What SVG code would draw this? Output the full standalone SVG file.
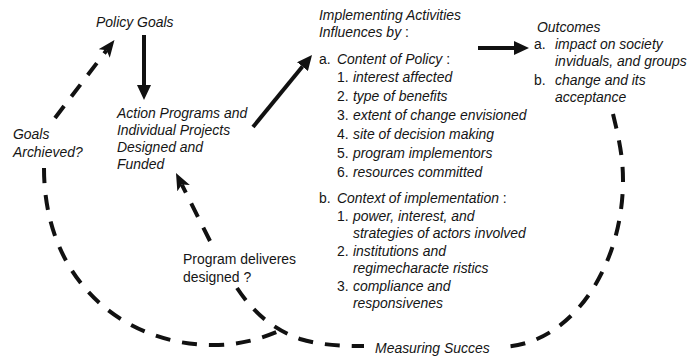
<svg xmlns="http://www.w3.org/2000/svg" width="689" height="358" viewBox="0 0 689 358">
<style>
text{font-family:"Liberation Sans",Arial,sans-serif;font-size:15.5px;fill:#151515}
.i{font-style:italic}
.sol{fill:none;stroke:#111;stroke-width:4}
.das{fill:none;stroke:#111;stroke-width:4;stroke-dasharray:15 12}
</style>
<defs>
<marker id="ah" markerUnits="userSpaceOnUse" markerWidth="15" markerHeight="14" viewBox="0 0 15 14" refX="0" refY="7" orient="auto"><path d="M0,0 L15,7 L0,14 z" fill="#111"/></marker>
<marker id="ahd" markerUnits="userSpaceOnUse" markerWidth="17" markerHeight="14" viewBox="0 0 17 14" refX="4" refY="7" orient="auto"><path d="M0,0 L17,7 L0,14 L4,7 z" fill="#111"/></marker>
</defs>
<g id="connectors">
<path class="sol" d="M144,35 L144,85" marker-end="url(#ah)"/>
<path class="sol" d="M253,127 L302.5,66.6" marker-end="url(#ah)"/>
<path class="sol" d="M478,48 L514,48" marker-end="url(#ah)"/>
<path class="das" d="M55,118 L106.6,50.3" marker-end="url(#ahd)"/>
<path class="das" d="M210,241 L181.8,184.6" marker-end="url(#ahd)"/>
<path class="das" d="M613,114 C618,135 623,155 623,180 C623,268 570,347 499,347"/>
<path class="das" d="M44,168 C44,282 125,345 213,345 C240,345 260,339 279,331"/>
<path class="das" d="M237,288 C255,315 275,330 300,339 C320,345 340,346 364,346"/>
</g>
<g transform="scale(0.9,1)">
<g id="policy-goals"><text class="i" x="106.7" y="27">Policy Goals</text></g>
<g id="action-programs">
<text class="i" x="130" y="118">Action Programs and</text>
<text class="i" x="130" y="135">Individual Projects</text>
<text class="i" x="130" y="152">Designed and</text>
<text class="i" x="130" y="169">Funded</text>
</g>
<g id="goals-archieved">
<text class="i" x="14.4" y="139">Goals</text>
<text class="i" x="14.4" y="157">Archieved?</text>
</g>
<g id="program-delivers">
<text x="203.3" y="264">Program deliveres</text>
<text x="203.3" y="282">designed ?</text>
</g>
<g id="implementing">
<text x="354.4" y="20" class="i">Implementing Activities</text>
<text x="354.4" y="37"><tspan class="i">Influences by</tspan> :</text>
<text x="354.4" y="64">a.<tspan x="374.4" class="i">Content of Policy</tspan> :</text>
<text x="374.4" y="82">1.<tspan x="392.2" class="i">interest affected</tspan></text>
<text x="374.4" y="101">2.<tspan x="392.2" class="i">type of benefits</tspan></text>
<text x="374.4" y="120">3.<tspan x="392.2" class="i">extent of change envisioned</tspan></text>
<text x="374.4" y="139">4.<tspan x="392.2" class="i">site of decision making</tspan></text>
<text x="374.4" y="158">5.<tspan x="392.2" class="i">program implementors</tspan></text>
<text x="374.4" y="177">6.<tspan x="392.2" class="i">resources committed</tspan></text>
<text x="354.4" y="203">b.<tspan x="374.4" class="i">Context of implementation</tspan> :</text>
<text x="374.4" y="221">1.<tspan x="392.2" class="i">power, interest, and</tspan></text>
<text x="392.2" y="238" class="i">strategies of actors involved</text>
<text x="374.4" y="256">2.<tspan x="392.2" class="i">institutions and</tspan></text>
<text x="392.2" y="273" class="i">regimecharacte ristics</text>
<text x="374.4" y="291">3.<tspan x="392.2" class="i">compliance and</tspan></text>
<text x="392.2" y="308" class="i">responsivenes</text>
</g>
<g id="outcomes">
<text x="596.7" y="32" class="i">Outcomes</text>
<text x="593.3" y="49">a.<tspan x="616.7" class="i">impact on society</tspan></text>
<text x="616.7" y="66" class="i">inviduals, and groups</text>
<text x="593.3" y="85">b.<tspan x="616.7" class="i">change and its</tspan></text>
<text x="616.7" y="102" class="i">acceptance</text>
</g>
<g id="measuring-success"><text x="416.7" y="353" class="i">Measuring Succes</text></g>
</g>
</svg>
